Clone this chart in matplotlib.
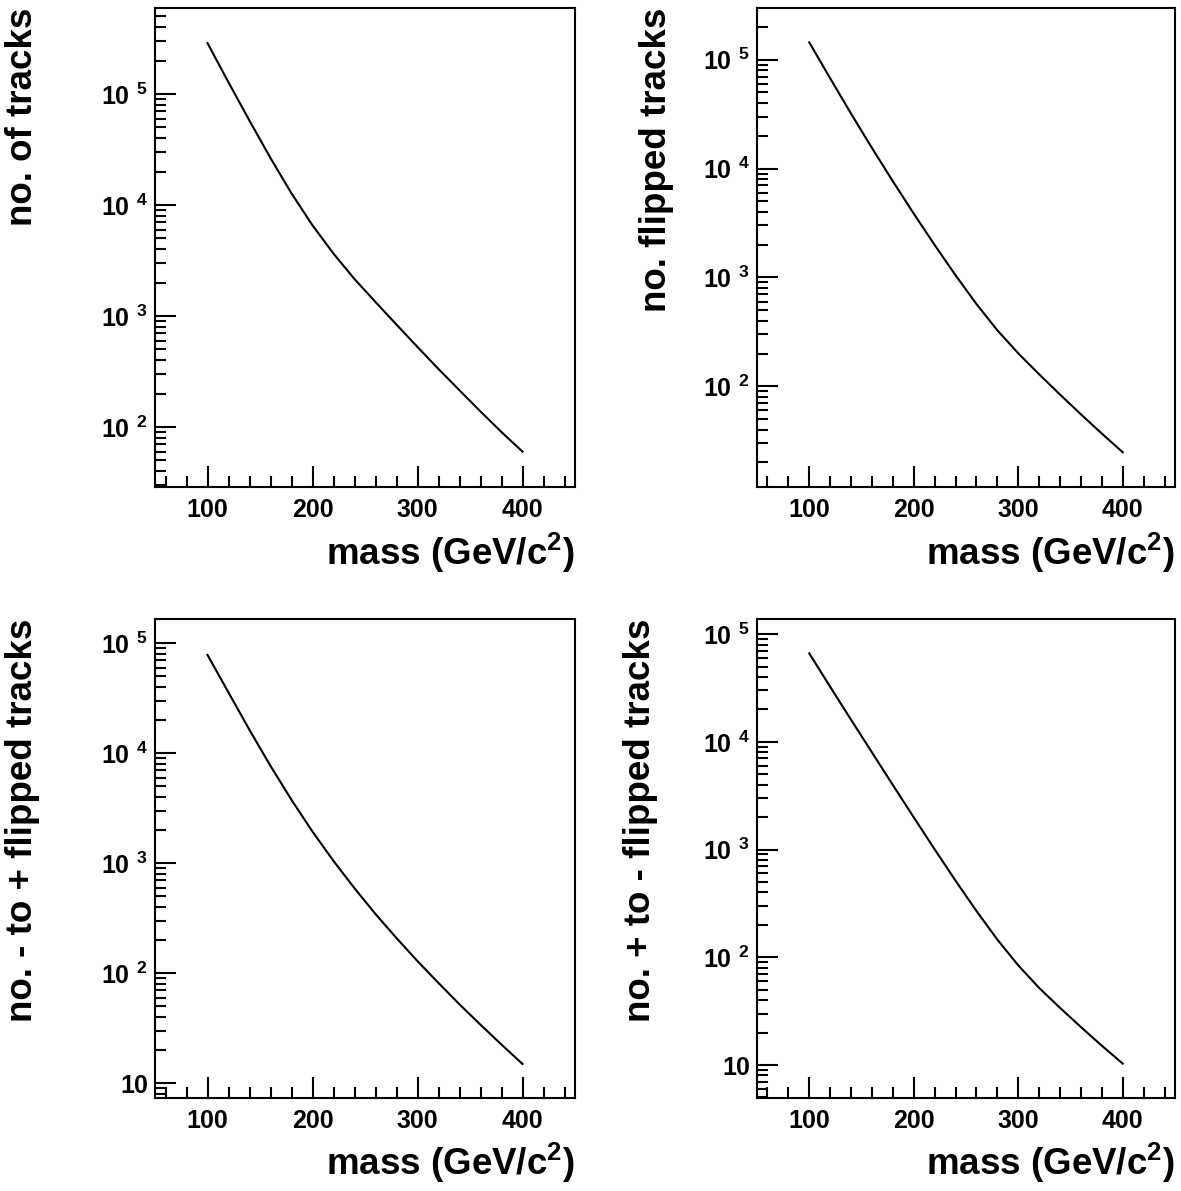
import numpy as np
import matplotlib
matplotlib.use("Agg")
import matplotlib.pyplot as plt
from matplotlib.ticker import LogLocator, MultipleLocator, FuncFormatter, NullFormatter

plt.rcParams['font.family'] = ['Liberation Sans', 'DejaVu Sans']
plt.rcParams['font.weight'] = 'bold'
plt.rcParams['mathtext.fontset'] = 'custom'
plt.rcParams['mathtext.rm'] = 'Liberation Sans:bold'
plt.rcParams['mathtext.it'] = 'Liberation Sans:bold'
plt.rcParams['mathtext.bf'] = 'Liberation Sans:bold'
plt.rcParams['mathtext.sf'] = 'Liberation Sans:bold'

# mass points (GeV/c^2)
mass = [100, 120, 140, 160, 180, 200, 220, 240, 260, 280, 300, 320, 340, 360, 380, 400]

# counts
n_tracks = [287700, 127400, 57540, 26490, 12740, 6561, 3648, 2153,
            1337, 836, 526, 333, 214, 138, 90, 60]
n_flipped = [144200, 67450, 31920, 15450, 7640, 3855, 1986, 1047,
             570, 327, 201, 129, 84, 55.3, 36.8, 24.8]
n_minus_to_plus = [78340, 35650, 16290, 7674, 3767, 1941, 1050, 593,
                   346, 209, 129, 81.7, 52.2, 34.1, 22.5, 15.0]
n_plus_to_minus = [66220, 32430, 16030, 7980, 3972, 1991, 1005, 514,
                   269, 146, 84.1, 51.9, 33.9, 22.5, 15.1, 10.3]

ylabels = ["no. of tracks", "no. flipped tracks",
           "no. - to + flipped tracks", "no. + to - flipped tracks"]
ylims = [(28.8, 5.96e5), (11.9, 2.98e5), (7.36, 1.66e5), (4.94, 1.38e5)]
series = [n_tracks, n_flipped, n_minus_to_plus, n_plus_to_minus]

W, H = 1181, 1191
# frame boxes in pixels: left, top, right, bottom
boxes = [(155, 8, 575, 487), (757, 8, 1175, 487),
         (155, 619, 575, 1098), (757, 619, 1175, 1098)]
ylabel_x = [23, 657, 23, 641]
xlabel_y = [553, 553, 1163, 1163]


def log_fmt(v, pos):
    e = int(round(np.log10(v)))
    if e == 1:
        return "10"
    return r"$10^{\ \,%d}$" % e


fig = plt.figure(figsize=(W / 100, H / 100), dpi=100)
for i in range(4):
    l, t, r, b = boxes[i]
    ax = fig.add_axes([l / W, 1 - b / H, (r - l) / W, (b - t) / H])
    ax.plot(mass, series[i], color='black', lw=1.5)
    ax.set_yscale('log')
    ax.set_xlim(50, 450)
    ax.set_ylim(*ylims[i])
    ax.xaxis.set_major_locator(MultipleLocator(100))
    ax.xaxis.set_minor_locator(MultipleLocator(20))
    ax.yaxis.set_major_locator(LogLocator(base=10))
    ax.yaxis.set_minor_locator(LogLocator(base=10, subs=np.arange(2, 10)))
    ax.yaxis.set_major_formatter(FuncFormatter(log_fmt))
    ax.yaxis.set_minor_formatter(NullFormatter())
    ax.tick_params(which='major', direction='in', length=15, width=1.5,
                   labelsize=18, top=False, right=False)
    ax.tick_params(which='minor', direction='in', length=8, width=1.5,
                   top=False, right=False)
    ax.tick_params(axis='x', pad=8)
    ax.tick_params(axis='y', pad=5)
    for lab in ax.get_xticklabels() + ax.get_yticklabels():
        lab.set_fontweight('bold')
    for sp in ax.spines.values():
        sp.set_linewidth(1.5)

    fig.text(ylabel_x[i] / W, 1 - t / H, ylabels[i], rotation=90,
             ha='center', va='top', fontsize=26.5, fontweight='bold')
    fig.text(r / W, 1 - xlabel_y[i] / H, r"mass (GeV/c$^{2}$)",
             ha='right', va='center', fontsize=26.5, fontweight='bold')

fig.savefig("out.png", dpi=100)
